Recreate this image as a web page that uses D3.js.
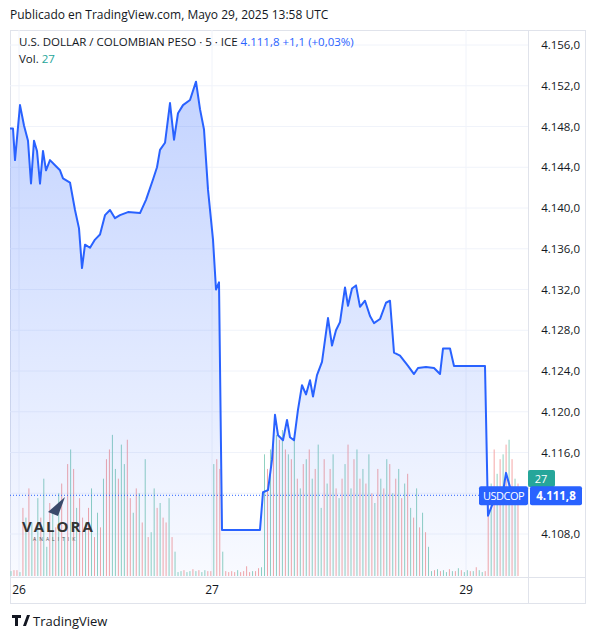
<!DOCTYPE html>
<html><head><meta charset="utf-8">
<script src="https://cdn.jsdelivr.net/npm/d3@7"></script>
<style>body{margin:0;background:#fff;font-family:"Open Sans",Arial,sans-serif}</style>
</head><body>
<svg id="c" width="598" height="639"></svg>
<script>
// time in 5-min bar units (collapsed session time), price
const times = [0,3,5,10,14,18,21,24,27,30,33,36,40,45,50,53,60,65,69,72,75,80,85,90,95,100,105,110,118,130,136,143,147,150,155,160,164,168,173,180,186,190,194,198,203,206,209,212,214,250,253,258,262,265,268,273,277,280,284,288,292,296,300,303,307,312,318,322,326,330,335,338,342,346,350,355,360,364,370,376,380,384,390,398,404,408,416,424,430,433,440,444,450,472,475,478,482,487,492,496,500,504,508];
const prices = [4147.8,4147.8,4144.7,4150.1,4148.1,4146.6,4142.4,4146.6,4145.6,4142.4,4145.6,4143.7,4144.7,4144.2,4143.7,4142.9,4142.5,4139.8,4138.0,4134.1,4136.4,4136.1,4136.9,4137.4,4139.3,4139.8,4139.0,4139.3,4139.6,4139.5,4140.8,4142.8,4144.0,4145.7,4146.4,4150.3,4146.7,4149.3,4150.1,4150.6,4152.4,4149.7,4147.7,4141.8,4136.9,4132.0,4132.7,4108.4,4108.4,4108.4,4112.1,4112.3,4115.3,4119.7,4117.7,4117.2,4119.2,4117.5,4117.2,4120.2,4122.6,4121.7,4123.1,4121.5,4123.6,4124.9,4129.2,4126.5,4128.0,4128.8,4132.2,4130.4,4132.1,4132.4,4130.3,4130.9,4129.4,4128.7,4129.1,4130.7,4130.9,4125.8,4125.5,4124.5,4123.7,4124.3,4124.4,4124.3,4123.7,4126.2,4126.2,4124.5,4124.5,4124.5,4124.5,4109.8,4110.8,4111.5,4111.5,4114.0,4112.6,4112.3,4111.8];
// volumes: positive = up bar (green), negative = down bar (red)
const volumes = [5,-6,-6,4,
 -70,60,-90,55,-40,80,-60,100,30,-75,65,-50,85,-95,40,-115,130,-110,70,-80,-60,55,-70,90,-40,65,-50,100,-120,-130,145,110,-100,135,115,-140,-80,65,-90,85,-55,120,-40,45,90,-70,75,-60,-55,80,-40,25,
 4,5,-6,4,5,-7,5,-6,4,6,-5,-5,
 115,-120,-110,25,
 -5,-4,-5,-4,6,-4,-5,-10,-4,5,-5,-8,9,
 125,-110,130,-135,145,-140,150,-130,125,-120,140,-100,90,-115,120,-130,100,-110,135,70,-120,95,-110,125,-90,80,-100,115,-135,90,-120,130,-100,110,-95,125,-85,75,-110,100,-90,120,-115,85,-100,110,-80,95,-105,70,-60,90,-50,65,-45,30,
 5,-6,7,-5,6,4,-7,5,-5,8,-6,4,6,-5,5,-9,6,4,-5,
 -80,95,-130,105,-120,125,-135,140,-120,100,-95];
const priceTicks = [4108,4112,4116,4120,4124,4128,4132,4136,4140,4144,4148,4152,4156];
const dayTicks = [9,202,456];
const dayLabels = ["26","27","29"];
const lastPrice = 4111.8;

const svg = d3.select("#c");
const fmt = v => d3.format(",.1f")(v).replace(/,/g,"#").replace(".",",").replace(/#/g,".");

const x = d3.scaleLinear().domain([0,510]).range([10,520]);
const y = d3.scaleLinear().domain([4108,4156]).range([534,45]);
const vy = d3.scaleLinear().domain([0,150]).range([576,430]);

// frame
svg.append("rect").attr("x",10.5).attr("y",30.5).attr("width",575).attr("height",573).attr("fill","none").attr("stroke","#e0e3eb");
svg.append("line").attr("x1",10).attr("x2",586).attr("y1",577.5).attr("y2",577.5).attr("stroke","#e0e3eb");
svg.append("line").attr("x1",528.5).attr("x2",528.5).attr("y1",30).attr("y2",604).attr("stroke","#e0e3eb");

// grid
priceTicks.forEach(t => svg.append("line").attr("x1",10).attr("x2",528).attr("y1",y(t)).attr("y2",y(t)).attr("stroke","#f0f3fa"));
dayTicks.forEach(t => svg.append("line").attr("x1",x(t)).attr("x2",x(t)).attr("y1",30).attr("y2",577).attr("stroke","#f0f3fa"));

// volume bars
const step = 510/volumes.length;
svg.selectAll(".v").data(volumes).enter().append("line")
  .attr("x1",(d,i)=>x(i*step+1)).attr("x2",(d,i)=>x(i*step+1))
  .attr("y1",vy(0)).attr("y2",d=>vy(Math.abs(d)))
  .attr("stroke",d=>d>=0?"#8fd1c0":"#f5a6a6").attr("stroke-width",1);

// area gradient
const g = svg.append("defs").append("linearGradient").attr("id","gr").attr("x1",0).attr("x2",0).attr("y1",0).attr("y2",1);
g.append("stop").attr("offset","0").attr("stop-color","#2962ff").attr("stop-opacity",0.28);
g.append("stop").attr("offset","1").attr("stop-color","#2962ff").attr("stop-opacity",0.03);

const pts = times.map((t,i)=>[t,prices[i]]);
svg.append("path").datum(pts)
  .attr("d",d3.area().x(d=>x(d[0])).y0(577).y1(d=>y(d[1])))
  .attr("fill","url(#gr)");
svg.append("path").datum(pts)
  .attr("d",d3.line().x(d=>x(d[0])).y(d=>y(d[1])))
  .attr("fill","none").attr("stroke","#2962ff").attr("stroke-width",2).attr("stroke-linejoin","round");

// last price dotted line
svg.append("line").attr("x1",10).attr("x2",528).attr("y1",y(lastPrice)).attr("y2",y(lastPrice))
  .attr("stroke","#2962ff").attr("stroke-dasharray","1,2");

// price axis labels
priceTicks.forEach(t => svg.append("text").attr("x",580).attr("y",y(t)+4).attr("text-anchor","end")
  .attr("font-size",11.5).attr("fill","#131722").text(fmt(t)));
// day labels
dayTicks.forEach((t,i) => svg.append("text").attr("x",x(t)).attr("y",594).attr("text-anchor","middle")
  .attr("font-size",12).attr("fill","#131722").text(dayLabels[i]));

// badges
svg.append("rect").attr("x",528).attr("y",470).attr("width",27).attr("height",17).attr("rx",2).attr("fill","#26a69a");
svg.append("text").attr("x",541).attr("y",482.5).attr("text-anchor","middle").attr("font-size",11).attr("fill","#fff").text("27");
svg.append("rect").attr("x",479).attr("y",y(lastPrice)-9).attr("width",49).attr("height",19).attr("rx",2).attr("fill","#2962ff");
svg.append("text").attr("x",503.5).attr("y",y(lastPrice)+5).attr("text-anchor","middle").attr("font-size",11).attr("fill","#fff").attr("letter-spacing",-0.5).text("USDCOP");
svg.append("rect").attr("x",530).attr("y",y(lastPrice)-9).attr("width",52).attr("height",19).attr("rx",2).attr("fill","#2962ff");
svg.append("text").attr("x",556).attr("y",y(lastPrice)+5).attr("text-anchor","middle").attr("font-size",11.5).attr("font-weight","bold").attr("fill","#fff").text(fmt(lastPrice));

// header
svg.append("text").attr("x",10).attr("y",19).attr("font-size",12).attr("fill","#131722").text("Publicado en TradingView.com, Mayo 29, 2025 13:58 UTC");
const h = svg.append("text").attr("x",19).attr("y",46).attr("font-size",11.5).attr("fill","#131722");
h.append("tspan").text("U.S. DOLLAR / COLOMBIAN PESO · 5 · ICE ");
h.append("tspan").attr("fill","#2962ff").text(" 4.111,8  +1,1 (+0,03%)");
const vl = svg.append("text").attr("x",19).attr("y",63).attr("font-size",11.5).attr("fill","#131722");
vl.append("tspan").text("Vol. ");
vl.append("tspan").attr("fill","#26a69a").text(" 27");

// watermark
svg.append("path").attr("d","M48 512 L65 497 L58 516 Z").attr("fill","#3a4a6b");
svg.append("text").attr("x",22).attr("y",532).attr("font-size",15).attr("font-weight","bold").attr("letter-spacing",2).attr("fill","#333").text("VALORA");
svg.append("text").attr("x",33).attr("y",541).attr("font-size",5).attr("letter-spacing",3).attr("fill","#555").text("ANALITIK");

// footer
svg.append("path").attr("d","M12 615 h9 v3 h-3 v8 h-3 v-8 h-3 Z M23 626 l4 -11 h3 l-4 11 Z").attr("fill","#131722");
svg.append("text").attr("x",33).attr("y",626).attr("font-size",13).attr("fill","#131722").text("TradingView");
</script>
</body></html>
